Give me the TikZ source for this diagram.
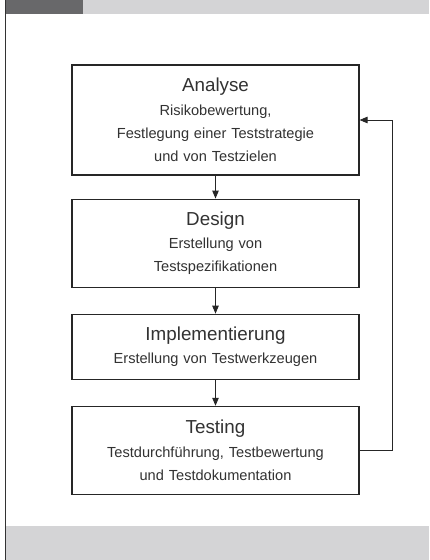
\documentclass[tikz,border=0pt]{standalone}
\usepackage{fontspec}
\setmainfont{Liberation Sans}
\usepackage{xcolor}
\usetikzlibrary{arrows.meta,positioning}
\definecolor{bandlight}{RGB}{212,212,214}
\definecolor{banddark}{RGB}{104,104,106}
\definecolor{textgray}{RGB}{50,50,50}
\tikzset{
  phase/.style={
    rectangle, draw=black!85, line width=1.1pt, fill=white,
    minimum width=287pt, text width=280pt, align=center, inner sep=0pt,
    font=\fontsize{14.6}{23.3}\selectfont, text=textgray
  },
  flow/.style={-{Triangle[length=8pt,width=6.5pt]}, line width=0.9pt, black!85},
}
\newcommand{\phasetitle}[1]{{\fontsize{18.8}{23.3}\selectfont #1}}

\begin{document}
\begin{tikzpicture}[node distance=23pt]
  \useasboundingbox (0,0) rectangle (429pt,-560pt);

  % Frame bands
  \fill[bandlight] (83pt,0) rectangle (429pt,-14pt);
  \fill[banddark] (5pt,0) rectangle (83pt,-14pt);
  \fill[bandlight] (6pt,-526pt) rectangle (429pt,-560pt);
  \draw[line width=1.3pt, black!80] (5.5pt,0) -- (5.5pt,-560pt);

  % Phases
  \node[phase, minimum height=110pt] (ana) at (215.5pt,-120pt)
    {\phasetitle{Analyse}\\ Risikobewertung,\\ Festlegung einer Teststrategie\\ und von Testzielen};
  \node[phase, minimum height=88pt, below=23pt of ana] (des)
    {\phasetitle{Design}\\ Erstellung von\\ Testspezifikationen};
  \node[phase, minimum height=65pt, below=26pt of des] (impl)
    {\phasetitle{Implementierung}\\ Erstellung von Testwerkzeugen};
  \node[phase, minimum height=88pt, below=26pt of impl] (test)
    {\phasetitle{Testing}\\ Testdurchführung, Testbewertung\\ und Testdokumentation};

  % Flow between phases
  \draw[flow] (ana) -- (des);
  \draw[flow] (des) -- (impl);
  \draw[flow] (impl) -- (test);

  % Feedback loop back to analysis
  \draw[flow] (test.east) -- ++(33pt,0) |- (ana.east);
\end{tikzpicture}
\end{document}
